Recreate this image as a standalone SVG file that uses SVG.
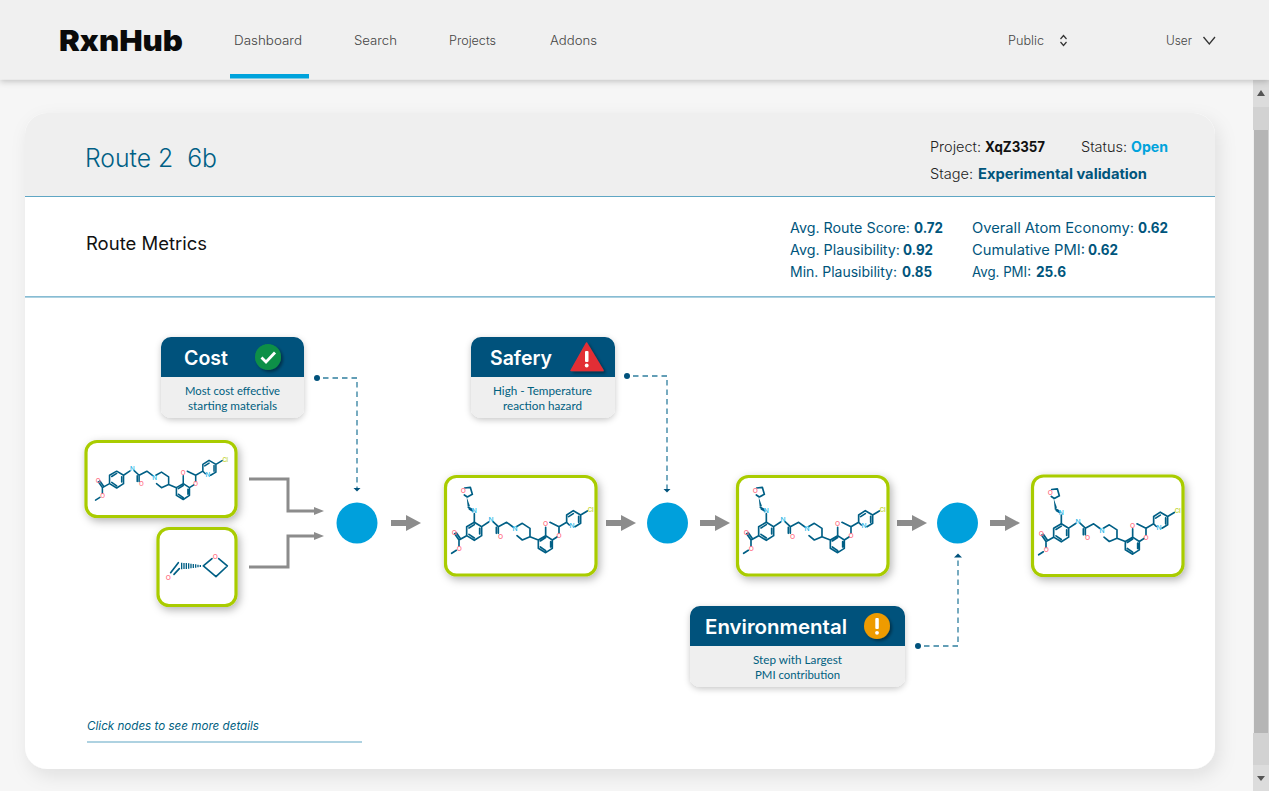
<svg xmlns="http://www.w3.org/2000/svg" xmlns:xlink="http://www.w3.org/1999/xlink" width="1269" height="791" viewBox="0 0 1269 791">
<style>
text{font-family:"Inter","Liberation Sans",sans-serif}
.nav{font-size:12.5px;fill:#444;font-weight:300}
.blk{font-size:14px;fill:#222;font-weight:300}
.blkb{font-size:14px;fill:#111;font-weight:700}
.met{font-size:14px;fill:#00557c}
.metb{font-size:14px;fill:#00557c;font-weight:700}
.hd{font-size:20px;fill:#fff;font-weight:600}
.sub{font-family:"Lato","Liberation Sans",sans-serif;font-size:12px;fill:#00607f;text-anchor:middle}
.box{fill:#fff;stroke:#a9cc00;stroke-width:3.2}
.bond{fill:none;stroke:#005f85;stroke-width:5;stroke-linecap:round;stroke-linejoin:round}
.o{font-size:20px;fill:#ff6b81;text-anchor:middle;font-weight:500}
.n{font-size:20px;fill:#22b5e6;text-anchor:middle;font-weight:500}
.cl{font-size:18px;fill:#c4d63a;text-anchor:middle;font-weight:600}
.hub{fill:#00a0dc}
.elbow{fill:none;stroke:#8c8c8c;stroke-width:3;marker-end:url(#ge)}
.block{fill:none;stroke:#8c8c8c;stroke-width:6;marker-end:url(#gb)}
.dash{fill:none;stroke:#2f7f9f;stroke-width:1.3;stroke-dasharray:5.500 4;marker-end:url(#de)}
.dot{fill:#00527c}
.line{stroke:#5fa6c4;stroke-width:1.2}
</style>
<defs>
<filter id="s1" x="-20%" y="-20%" width="140%" height="150%"><feDropShadow dx="2" dy="3" stdDeviation="4" flood-color="#000" flood-opacity=".3"/></filter>
<filter id="s2" x="-10%" y="-20%" width="120%" height="150%"><feDropShadow dx="0" dy="2" stdDeviation="3" flood-color="#000" flood-opacity=".22"/></filter>
<filter id="s3" x="-5%" y="-5%" width="110%" height="112%"><feDropShadow dx="4" dy="7" stdDeviation="9" flood-color="#000" flood-opacity=".09"/></filter>
<filter id="s4" x="-30%" y="-30%" width="170%" height="170%"><feDropShadow dx="2" dy="2" stdDeviation="1.5" flood-color="#000" flood-opacity=".4"/></filter>
<marker id="ge" markerUnits="userSpaceOnUse" markerWidth="11" markerHeight="10" refX="1" refY="5" orient="auto"><path d="M0 1L10 5L0 9Z" fill="#8c8c8c"/></marker>
<marker id="gb" markerUnits="userSpaceOnUse" markerWidth="16" markerHeight="16" refX="1" refY="8" orient="auto"><path d="M0 0L15 8L0 16Z" fill="#8c8c8c"/></marker>
<marker id="de" markerUnits="userSpaceOnUse" markerWidth="5" markerHeight="10" refX="0.500" refY="5" orient="auto"><path d="M0 1L4 5L0 9Z" fill="#00527c"/></marker>
<g id="core">
<path class="bond" d="M95 185L118 172L140 185L140 212L118 226L95 212ZM102 189L118 179M134 190L134 207M102 208L118 219M95 212L72 225L59 206M77 222L64 203M72 225L72 243M64 256L50 265M140 185L161 171M174 170L190 185L190 205M184 187L184 205M190 185L215 172L234 186M244 185L262 175L285 190L285 215L262 225L246 212M285 215L310 225M310 225L332 212L352 225L352 250L332 263L310 250L310 225M316 228L332 218M347 230L347 246M316 246L332 257M332 212L332 187M352 225L366 216M372 205L372 185L345 172M372 185L395 172L395 150L415 137L437 150L437 175L420 185M395 172L403 180M401 155L415 146M431 154L431 172M437 150L457 138"/>
<text class="o" x="58" y="209">O</text><text class="o" x="73" y="257">O</text><text class="o" x="197" y="221">O</text><text class="o" x="332" y="184">O</text><text class="o" x="372" y="220">O</text>
<text class="n" x="168" y="172">N</text><text class="n" x="240" y="199">N</text><text class="n" x="411" y="190">N</text><text class="cl" x="467" y="141">Cl</text>
</g>
<g id="ox">
<path class="bond" d="M118 172L118 146M110 133L100 127M113 138L103 132M89 69L106 67L112 88L97 96L88 90"/>
<path d="M95 96L98 125L105 124Z" fill="#005f85"/>
<text class="o" x="85" y="85">O</text><text class="n" x="118" y="145">N</text>
</g>
</defs>

<rect width="1269" height="791" fill="#f6f6f6"/>

<g id="scrollbar">
<rect x="1253" y="80" width="16" height="711" fill="#efefef"/>
<rect x="1253" y="80" width="16" height="27" fill="#dcdcdc"/>
<rect x="1253" y="107" width="16" height="23" fill="#d2d2d2"/>
<rect x="1254" y="130" width="14.500" height="603" fill="#b5b5b5"/>
<rect x="1253" y="733" width="16" height="32" fill="#d2d2d2"/>
<rect x="1253" y="765" width="16" height="26" fill="#dcdcdc"/>
<path d="M1261 90L1265 96H1257Z M1261 781L1265 776H1257Z" fill="#555"/>
</g>

<g id="card">
<rect x="25" y="113" width="1190" height="656" rx="22" fill="#fff" filter="url(#s3)"/>
<path d="M25 196V135a22 22 0 0 1 22-22H1193a22 22 0 0 1 22 22V196Z" fill="#efefef"/>
<line class="line" x1="25" y1="196.500" x2="1215" y2="196.500"/>
<line class="line" x1="25" y1="296.800" x2="1215" y2="296.800"/>
<line class="line" x1="87" y1="742" x2="362" y2="742"/>
</g>

<g id="topbar">
<rect width="1269" height="79.500" fill="#f0f0f0" filter="url(#s2)"/>
<text x="59" y="51" font-size="29" font-weight="900" fill="#0a0a0a" textLength="124" lengthAdjust="spacingAndGlyphs">RxnHub</text>
<text class="nav" x="234" y="45" textLength="68" lengthAdjust="spacingAndGlyphs">Dashboard</text>
<text class="nav" x="354" y="45" textLength="43" lengthAdjust="spacingAndGlyphs">Search</text>
<text class="nav" x="449" y="45" textLength="47" lengthAdjust="spacingAndGlyphs">Projects</text>
<text class="nav" x="550" y="45" textLength="47" lengthAdjust="spacingAndGlyphs">Addons</text>
<text class="nav" x="1008" y="45" textLength="36" lengthAdjust="spacingAndGlyphs">Public</text>
<text class="nav" x="1166" y="45" textLength="26" lengthAdjust="spacingAndGlyphs">User</text>
<rect x="230" y="74" width="79" height="4.500" fill="#00a3dc"/>
<path d="M1060.500 39L1063.500 35.500L1066.500 39M1060.500 42L1063.500 45.500L1066.500 42" fill="none" stroke="#333" stroke-width="1.200"/>
<path d="M1203.500 37L1209.300 44L1215 37" fill="none" stroke="#333" stroke-width="1.300"/>
</g>

<g id="header">
<text x="85" y="167" font-size="25" font-weight="300" fill="#005f85" style="white-space:pre" textLength="132" lengthAdjust="spacingAndGlyphs">Route 2  6b</text>
<text x="86" y="250" font-size="18" fill="#111" textLength="121" lengthAdjust="spacingAndGlyphs">Route Metrics</text>
<text class="blk" x="930" y="151.500" textLength="51" lengthAdjust="spacingAndGlyphs">Project:</text>
<text class="blkb" x="985" y="151.500" textLength="60" lengthAdjust="spacingAndGlyphs">XqZ3357</text>
<text class="blk" x="1081" y="151.500" textLength="46" lengthAdjust="spacingAndGlyphs">Status:</text>
<text x="1131" y="151.500" font-size="14" font-weight="700" fill="#00a3dc" textLength="37" lengthAdjust="spacingAndGlyphs">Open</text>
<text class="blk" x="930" y="178.500" textLength="43" lengthAdjust="spacingAndGlyphs">Stage:</text>
<text class="metb" x="978" y="178.500" textLength="169" lengthAdjust="spacingAndGlyphs">Experimental validation</text>
<text class="met" x="790" y="232.500" textLength="120" lengthAdjust="spacingAndGlyphs">Avg. Route Score:</text>
<text class="metb" x="914" y="232.500" textLength="29" lengthAdjust="spacingAndGlyphs">0.72</text>
<text class="met" x="790" y="254.500" textLength="110" lengthAdjust="spacingAndGlyphs">Avg. Plausibility:</text>
<text class="metb" x="903" y="254.500" textLength="30" lengthAdjust="spacingAndGlyphs">0.92</text>
<text class="met" x="790" y="276.500" textLength="107" lengthAdjust="spacingAndGlyphs">Min. Plausibility:</text>
<text class="metb" x="902" y="276.500" textLength="30" lengthAdjust="spacingAndGlyphs">0.85</text>
<text class="met" x="972" y="232.500" textLength="162" lengthAdjust="spacingAndGlyphs">Overall Atom Economy:</text>
<text class="metb" x="1138" y="232.500" textLength="30" lengthAdjust="spacingAndGlyphs">0.62</text>
<text class="met" x="972" y="254.500" textLength="113" lengthAdjust="spacingAndGlyphs">Cumulative PMI:</text>
<text class="metb" x="1088" y="254.500" textLength="30" lengthAdjust="spacingAndGlyphs">0.62</text>
<text class="met" x="972" y="276.500" textLength="59" lengthAdjust="spacingAndGlyphs">Avg. PMI:</text>
<text class="metb" x="1036" y="276.500" textLength="30" lengthAdjust="spacingAndGlyphs">25.6</text>
<text x="87" y="730" font-size="12" font-style="italic" fill="#00607f" textLength="172" lengthAdjust="spacingAndGlyphs">Click nodes to see more details</text>
</g>

<g id="connectors">
<path class="elbow" d="M249 479H288V511H315"/>
<path class="elbow" d="M249 567H288V536H315"/>
<path class="block" d="M391 523H407"/>
<path class="block" d="M606 523H622"/>
<path class="block" d="M700 523H716"/>
<path class="block" d="M897 523H913"/>
<path class="block" d="M990 523H1006"/>
<path class="dash" d="M323 378H357V488"/>
<circle class="dot" cx="317" cy="378" r="3"/>
<path class="dash" d="M633 376H667V489"/>
<circle class="dot" cx="627" cy="376" r="3"/>
<path class="dash" d="M924 646H958V557"/>
<circle class="dot" cx="918" cy="646" r="3"/>
</g>

<g id="reactant-1">
<rect class="box" x="86" y="441.500" width="150" height="75" rx="11" filter="url(#s1)"/>
<use xlink:href="#core" href="#core" transform="translate(80,417.700) scale(.311)"/>
</g>
<g id="reactant-2">
<rect class="box" x="158" y="528.500" width="78" height="77" rx="11" filter="url(#s1)"/>
<g transform="translate(70,430) scale(.3333)">
<path class="bond" d="M302 428L325 398M312 433L328 416M400 408L426 386M446 386L472 408L438 440L400 408"/>
<path d="M335 398V418M342 399V417M349 399V417M356 400V416M363 401V415M370 402V414M377 403V413M384 404V412M391 405V411" stroke="#005f85" stroke-width="4"/>
<text class="o" x="295" y="449">O</text><text class="o" x="436" y="386">O</text>
</g>
</g>
<g id="hub-1"><circle class="hub" cx="357" cy="523" r="20.500"/></g>
<g id="intermediate-1">
<rect class="box" x="445.500" y="476.500" width="150.500" height="98.500" rx="11" filter="url(#s1)"/>
<g transform="translate(435,465) scale(.3333)"><use xlink:href="#core" href="#core"/><use xlink:href="#ox" href="#ox"/></g>
</g>
<g id="hub-2"><circle class="hub" cx="667.500" cy="523" r="20.500"/></g>
<g id="intermediate-2">
<rect class="box" x="737.500" y="476.500" width="150.500" height="98.500" rx="11" filter="url(#s1)"/>
<g transform="translate(727,465) scale(.3333)"><use xlink:href="#core" href="#core"/><use xlink:href="#ox" href="#ox"/></g>
</g>
<g id="hub-3"><circle class="hub" cx="957.500" cy="523" r="20.500"/></g>
<g id="product">
<rect class="box" x="1032.500" y="476" width="150.500" height="99.500" rx="11" filter="url(#s1)"/>
<g transform="translate(1022,466.500) scale(.3333)"><use xlink:href="#core" href="#core"/><use xlink:href="#ox" href="#ox"/></g>
</g>

<g id="cost">
<rect x="161" y="337" width="143" height="81" rx="10" fill="#efefef" filter="url(#s2)"/>
<path d="M161 377V347a10 10 0 0 1 10-10H294a10 10 0 0 1 10 10V377Z" fill="#00527c"/>
<text class="hd" x="184" y="365" textLength="44" lengthAdjust="spacingAndGlyphs">Cost</text>
<circle cx="268" cy="357" r="13" fill="#0e8f46" filter="url(#s4)"/>
<path d="M261.500 357.500L266 362L275 352.500" fill="none" stroke="#fff" stroke-width="2.800"/>
<text class="sub" x="232.500" y="395" textLength="95" lengthAdjust="spacingAndGlyphs">Most cost effective</text>
<text class="sub" x="232.500" y="410" textLength="89" lengthAdjust="spacingAndGlyphs">starting materials</text>
</g>
<g id="safety">
<rect x="471" y="337" width="144" height="81" rx="10" fill="#efefef" filter="url(#s2)"/>
<path d="M471 377V347a10 10 0 0 1 10-10H605a10 10 0 0 1 10 10V377Z" fill="#00527c"/>
<text class="hd" x="490" y="365" textLength="62" lengthAdjust="spacingAndGlyphs">Safery</text>
<path d="M586.500 343L603 370.500H571Z" fill="#e22f35" stroke="#e22f35" stroke-width="1.500" stroke-linejoin="round" filter="url(#s4)"/>
<rect x="585" y="351" width="3.500" height="11" rx="1" fill="#fff"/><circle cx="586.700" cy="365.500" r="1.900" fill="#fff"/>
<text class="sub" x="542.500" y="395" textLength="99" lengthAdjust="spacingAndGlyphs">High - Temperature</text>
<text class="sub" x="542.500" y="410" textLength="79" lengthAdjust="spacingAndGlyphs">reaction hazard</text>
</g>
<g id="environmental">
<rect x="690" y="606" width="215" height="81" rx="10" fill="#efefef" filter="url(#s2)"/>
<path d="M690 646V616a10 10 0 0 1 10-10H895a10 10 0 0 1 10 10V646Z" fill="#00527c"/>
<text class="hd" x="705" y="634" textLength="142" lengthAdjust="spacingAndGlyphs">Environmental</text>
<circle cx="877" cy="626" r="13" fill="#ee9b00" filter="url(#s4)"/>
<rect x="875.300" y="618" width="3.500" height="11" rx="1" fill="#fff"/><circle cx="877" cy="632.800" r="1.900" fill="#fff"/>
<text class="sub" x="797.500" y="664" textLength="89" lengthAdjust="spacingAndGlyphs">Step with Largest</text>
<text class="sub" x="797.500" y="679" textLength="85" lengthAdjust="spacingAndGlyphs">PMI contribution</text>
</g>
</svg>
